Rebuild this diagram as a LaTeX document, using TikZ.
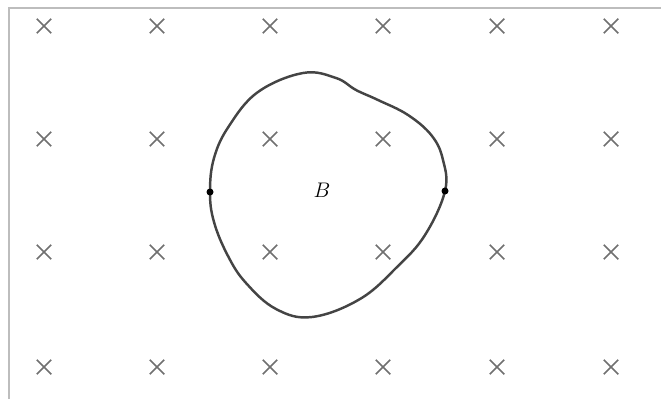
\documentclass[tikz,border=0pt]{standalone}
\usepackage{tikz}
\usetikzlibrary{shapes.misc}
\definecolor{fieldgray}{HTML}{707070}
\definecolor{framegray}{HTML}{BDBDBD}
\definecolor{loopgray}{HTML}{444444}

\begin{document}
\begin{tikzpicture}[x=0.02cm,y=-0.02cm,
    fieldx/.style={cross out, draw=fieldgray, line width=0.85pt,
                   minimum size=0.26cm, inner sep=0pt},
    wire/.style={draw=loopgray, line width=1.4pt, line join=round},
    terminal/.style={circle, fill=black, inner sep=0pt, minimum size=0.14cm}]

  \useasboundingbox (0,0) rectangle (661,399);

  % ----- moldura (recortada) -----
  \draw[framegray, line width=1.1pt] (9,399) -- (9,8) -- (661,8);

  % ----- campo B entrando no plano -----
  \foreach \c/\xx in {1/44,2/157,3/270,4/383,5/497,6/611}
    \foreach \r/\yy in {1/26,2/139,3/252,4/367}
      \node[fieldx] (x\c\r) at (\xx,\yy) {};

  % ----- espira -----
  \draw[wire] plot[smooth cycle, tension=0.65] coordinates {
    (210,192) (214,158) (229,126) (258,92) (303,73) (336,78)
    (356,90) (378,100) (408,115) (432,136) (443,160) (445,191) (425,235)
    (397,267) (360,299) (312,317) (276,309) (246,283) (228,256) (214,222)};

  \node[terminal] (pa) at (210,192) {};
  \node[terminal] (pb) at (445,191) {};

  \node[font=\large] (lblB) at (322,190) {$B$};

\end{tikzpicture}
\end{document}
